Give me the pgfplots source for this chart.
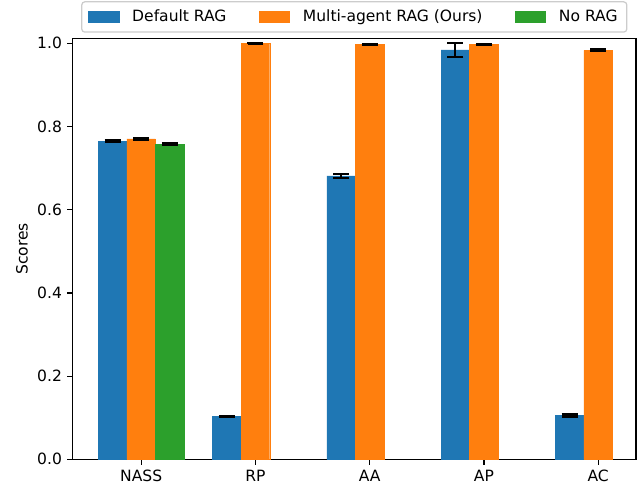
\documentclass[border=0pt]{standalone}
\usepackage{pgfplots}
\pgfplotsset{compat=1.18}
\usepackage{fontspec}
\setmainfont{DejaVu Sans}
\definecolor{tabblue}{HTML}{1F77B4}
\definecolor{taborange}{HTML}{FF7F0E}
\definecolor{tabgreen}{HTML}{2CA02C}
\definecolor{legframe}{HTML}{CCCCCC}
\begin{document}
\begin{tikzpicture}
\useasboundingbox (-47.5bp,-17.5bp) rectangle (370.4bp,300.4bp);
\begin{axis}[
  at={(0,0)}, anchor=south west,
  scale only axis,
  width=368.4bp, height=275.1bp,
  xmin=-0.6, xmax=4.33, ymin=0, ymax=1.011,
  xtick={0,1,2,3,4},
  xticklabels={NASS,RP,AA,AP,AC},
  ytick={0,0.2,0.4,0.6,0.8,1.0},
  yticklabel style={/pgf/number format/fixed,/pgf/number format/precision=1,/pgf/number format/fixed zerofill},
  /pgf/number format/assume math mode=true,
  tick align=outside,
  xtick pos=bottom, ytick pos=left,
  major tick length=3.5bp,
  every tick/.style={black, line width=0.8bp},
  axis line style={line width=0.8bp},
  tick label style={font=\fontsize{10.2}{12}\selectfont},
  ylabel={Scores},
  ylabel style={at={(axis description cs:-0.0901,0.5)}, anchor=center, font=\fontsize{10.2}{12}\selectfont},
  ybar, bar width=0.25,
  legend columns=3,
  legend style={at={(axis description cs:0.5,1)}, anchor=south, yshift=3.9bp,
    draw=legframe, line width=0.8bp, rounded corners=2bp, fill=white,
    font=\fontsize{10.2}{12}\selectfont, inner xsep=4bp, inner ysep=3.3bp,
    /tikz/every odd column/.append style={column sep=6.3bp},
    /tikz/every even column/.append style={column sep=19bp}},
  legend image code/.code={\fill[#1, draw=none, sharp corners] (0bp,-4.1bp) rectangle (20.7bp,4.1bp);},
  error bars/y dir=both, error bars/y explicit,
  error bars/error bar style={black, line width=1.4bp},
  error bars/error mark options={black, line width=1.4bp, mark size=5.2bp, rotate=90},
]
\addplot[fill=tabblue, draw=tabblue, line width=0.3bp, bar shift=-0.25] coordinates {
  (0,0.765) +- (0,0.002)
  (1,0.103) +- (0,0.002)
  (2,0.681) +- (0,0.005)
  (3,0.984) +- (0,0.017)
  (4,0.106) +- (0,0.003)
};
\addplot[fill=taborange, draw=taborange, line width=0.3bp, bar shift=0] coordinates {
  (0,0.770) +- (0,0.002)
  (1,1.000) +- (0,0.001)
  (2,0.997) +- (0,0.002)
  (3,0.997) +- (0,0.002)
  (4,0.983) +- (0,0.002)
};
\addplot[fill=tabgreen, draw=tabgreen, line width=0.3bp, bar shift=0.25] coordinates {
  (0,0.758) +- (0,0.002)
};
\legend{Default RAG,Multi-agent RAG (Ours),No RAG}
\end{axis}
\end{tikzpicture}
\end{document}
